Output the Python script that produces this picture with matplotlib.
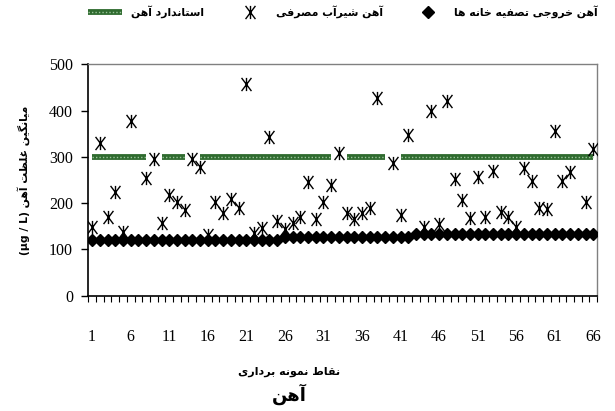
import numpy as np
import matplotlib
matplotlib.use("Agg")
import matplotlib.pyplot as plt
from matplotlib.path import Path
from matplotlib.ticker import FixedLocator

# --- data ---
points = list(range(1, 67))

# iron in treatment plant outflow (diamonds)
outflow = [120, 120, 120, 120, 120, 120, 120, 120, 120, 120,
           120, 120, 120, 120, 120, 120, 120, 120, 120, 120,
           120, 120, 120, 120, 120, 126, 126, 126, 126, 126,
           126, 126, 126, 126, 126, 126, 126, 126, 126, 126,
           126, 126, 134, 134, 134, 134, 134, 134, 134, 134,
           134, 134, 134, 134, 134, 134, 134, 134, 134, 134,
           134, 134, 134, 134, 134, 134]

# iron in consumer tap water (asterisks), None = not visible
tap = [149, 331, 171, 223, 138, 378, None, 255, 295, 158,
       217, 202, 185, 295, 279, 131, 203, 179, 209, 189,
       457, 135, 146, 343, 162, 144, 158, 171, 245, 166,
       202, 239, 308, 179, 166, 178, 190, 428, None, 286,
       174, 347, None, 149, 399, 154, 420, 252, 207, 168,
       257, 169, 270, 181, 171, 149, 277, 248, 190, 187,
       356, 248, 268, None, 202, 316]

# iron standard line, with the gaps seen in the reference
standard = [300] * 66
for gap in (9, 14, 33, 40):
    standard[gap - 1] = None

tick_labels = [1, 6, 11, 16, 21, 26, 31, 36, 41, 46, 51, 56, 61, 66]

legend_names = ["استاندارد آهن", "آهن شیرآب مصرفی", "آهن خروجی تصفیه خانه ها"]
x_title = "نقاط نمونه برداری"
y_title = "میانگین غلظت آهن"
y_unit = "(µg / L)"
chart_title = "آهن"


# --- tiny persian shaper (matplotlib has no complex text layout) ---
FORMS = {
    "ا": ("\uFE8D", "\uFE8E", None, None),
    "آ": ("\uFE81", "\uFE82", None, None),
    "ب": ("\uFE8F", "\uFE90", "\uFE91", "\uFE92"),
    "پ": ("\uFB56", "\uFB57", "\uFB58", "\uFB59"),
    "ت": ("\uFE95", "\uFE96", "\uFE97", "\uFE98"),
    "ج": ("\uFE9D", "\uFE9E", "\uFE9F", "\uFEA0"),
    "خ": ("\uFEA5", "\uFEA6", "\uFEA7", "\uFEA8"),
    "د": ("\uFEA9", "\uFEAA", None, None),
    "ر": ("\uFEAD", "\uFEAE", None, None),
    "ز": ("\uFEAF", "\uFEB0", None, None),
    "س": ("\uFEB1", "\uFEB2", "\uFEB3", "\uFEB4"),
    "ش": ("\uFEB5", "\uFEB6", "\uFEB7", "\uFEB8"),
    "ص": ("\uFEB9", "\uFEBA", "\uFEBB", "\uFEBC"),
    "ط": ("\uFEC1", "\uFEC2", "\uFEC3", "\uFEC4"),
    "ظ": ("\uFEC5", "\uFEC6", "\uFEC7", "\uFEC8"),
    "غ": ("\uFECD", "\uFECE", "\uFECF", "\uFED0"),
    "ف": ("\uFED1", "\uFED2", "\uFED3", "\uFED4"),
    "ق": ("\uFED5", "\uFED6", "\uFED7", "\uFED8"),
    "گ": ("\uFB92", "\uFB93", "\uFB94", "\uFB95"),
    "ل": ("\uFEDD", "\uFEDE", "\uFEDF", "\uFEE0"),
    "م": ("\uFEE1", "\uFEE2", "\uFEE3", "\uFEE4"),
    "ن": ("\uFEE5", "\uFEE6", "\uFEE7", "\uFEE8"),
    "ه": ("\uFEE9", "\uFEEA", "\uFEEB", "\uFEEC"),
    "و": ("\uFEED", "\uFEEE", None, None),
    "ی": ("\uFBFC", "\uFBFD", "\uFBFE", "\uFBFF"),
}


def fa(text):
    out = []
    for i, ch in enumerate(text):
        if ch not in FORMS:
            out.append(ch)
            continue
        prev = text[i - 1] if i > 0 else ""
        nxt = text[i + 1] if i + 1 < len(text) else ""
        join_prev = prev in FORMS and FORMS[prev][2] is not None
        join_next = FORMS[ch][2] is not None and nxt in FORMS
        iso, fin, ini, med = FORMS[ch]
        if join_prev and join_next:
            out.append(med)
        elif join_prev:
            out.append(fin)
        elif join_next:
            out.append(ini)
        else:
            out.append(iso)
    return "".join(out)[::-1]


def nan_list(vals):
    return np.array([np.nan if v is None else v for v in vals], dtype=float)


# asterisk marker: vertical bar plus an X
star_marker = Path(
    [(0, -1), (0, 1), (-0.75, -1), (0.75, 1), (-0.75, 1), (0.75, -1)],
    [Path.MOVETO, Path.LINETO, Path.MOVETO, Path.LINETO, Path.MOVETO, Path.LINETO],
)

fa_font = ["DejaVu Sans"]
num_font = ["Liberation Serif", "DejaVu Serif"]

fig = plt.figure(figsize=(6.15, 4.11), dpi=100)
ax = fig.add_axes([0.1435, 0.2805, 0.8275, 0.5631])

ax.plot(points, outflow, linestyle="none", marker="D", markersize=5.8,
        color="black", zorder=3, label=fa(legend_names[2]))
ax.plot(points, nan_list(tap), linestyle="none", marker=star_marker, markersize=9.5,
        markeredgewidth=1.0, color="black", zorder=4, label=fa(legend_names[1]))
std_line, = ax.plot(points, nan_list(standard), color="#2f6b2f", linewidth=4.2,
                    solid_capstyle="butt", zorder=2)
std_dots, = ax.plot(points, nan_list(standard), color="#9cc49c", linewidth=1,
                    linestyle=(0, (1, 1.5)), zorder=2)

ax.set_xlim(0.5, 66.5)
ax.set_ylim(0, 500)
ax.set_yticks([0, 100, 200, 300, 400, 500])

# category boundaries as ticks, labels centred on points
ax.xaxis.set_major_locator(FixedLocator(np.arange(0.5, 67, 1)))
ax.set_xticklabels([])
ax.set_xticks(tick_labels, minor=True)
ax.set_xticklabels([str(t) for t in tick_labels], minor=True)
ax.tick_params(axis="x", which="major", direction="out", length=4, width=0.8)
ax.tick_params(axis="x", which="minor", length=0, pad=24)
ax.tick_params(axis="y", direction="out", length=5, width=1, pad=6)
for lab in ax.get_xticklabels(minor=True) + ax.get_yticklabels():
    lab.set_family(num_font)
    lab.set_fontsize(11.5)

for side in ("top", "right"):
    ax.spines[side].set_color("#808080")
    ax.spines[side].set_linewidth(1)
for side in ("left", "bottom"):
    ax.spines[side].set_color("black")
    ax.spines[side].set_linewidth(1.2)

handles = [(std_line, std_dots)] + ax.get_lines()[:2][::-1]
labels = [fa(legend_names[0]), fa(legend_names[1]), fa(legend_names[2])]
leg = ax.legend(handles, labels, ncol=3, loc="lower center",
                bbox_to_anchor=(0.5, 1.18), frameon=False, columnspacing=2.6,
                handlelength=3.2, handletextpad=0.8, borderaxespad=0,
                prop={"family": fa_font, "weight": "bold", "size": 7.8})

ax.set_ylabel(y_unit + " " + fa(y_title), family=fa_font, fontsize=7.8,
              fontweight="bold", labelpad=14)
fig.text(0.47, 0.095, fa(x_title), ha="center", va="center", family=fa_font,
         fontsize=8, fontweight="bold")
fig.text(0.47, 0.04, fa(chart_title), ha="center", va="center", family=fa_font,
         fontsize=13, fontweight="bold")

fig.savefig("out.png", dpi=100)
